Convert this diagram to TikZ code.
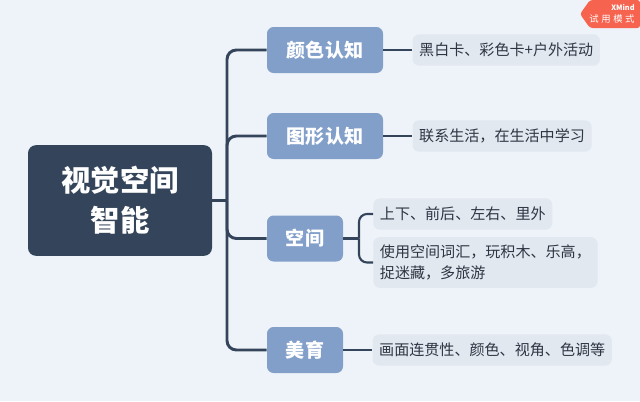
\documentclass[tikz,border=0pt]{standalone}
\usepackage{fontspec}
\setmainfont{Noto Sans CJK SC}
\usepackage{xcolor}
\usepackage{tikz}
\usetikzlibrary{positioning}
\definecolor{bgcol}{HTML}{EEF3F9}
\definecolor{rootcol}{HTML}{34445A}
\definecolor{branchcol}{HTML}{819FC9}
\definecolor{leafcol}{HTML}{E2E8F0}
\definecolor{linecol}{HTML}{34445A}
\definecolor{leaftext}{HTML}{2E3542}
\definecolor{badgecol}{HTML}{F6634F}
\tikzstyle{root-box}=[rectangle, rounded corners=6pt, fill=rootcol, text=white, minimum width=138pt, minimum height=83pt, align=center, font=\bfseries\fontsize{22}{30}\selectfont]
\tikzstyle{branch-box}=[rectangle, rounded corners=5pt, fill=branchcol, text=white, minimum height=34.5pt, font=\bfseries\fontsize{14.3}{17}\selectfont]
\tikzstyle{leaf-box}=[rectangle, rounded corners=5pt, fill=leafcol, text=leaftext, minimum height=23.5pt, inner xsep=5pt, align=left, font=\fontsize{11.3}{16}\selectfont]
\tikzstyle{trunk-line}=[draw=linecol, line width=2.2pt, rounded corners=7pt]
\tikzstyle{leaf-line}=[draw=linecol, line width=1.6pt, rounded corners=6pt]

\begin{document}
\begin{tikzpicture}[x=0.75pt, y=-0.75pt, node distance=21.75pt]
	\fill[bgcol] (0,0) rectangle (640,401);
	\useasboundingbox (0,0) rectangle (640,401);

	% badge
	\fill[badgecol, rounded corners=2pt] (640,0) -- (590,0) -- (580,14) -- (590,28) -- (640,28) -- cycle;
	\node[text=white, font=\bfseries\fontsize{5.5}{6}\selectfont] (xmind) at (623,7) {XMind};
	\node[text=white, font=\fontsize{7}{8}\selectfont] (trial) at (612,19) {试\;用\;模\;式};

	\node[root-box] (root) at (120,200.5) {视觉空间\\智能};

	\node[branch-box, minimum width=87pt] (colour) at (325,50) {颜色认知};
	\node[branch-box, minimum width=87pt] (shape) at (325,136) {图形认知};
	\node[branch-box, minimum width=57pt] (space) at (305,238.5) {空间};
	\node[branch-box, minimum width=57pt] (art) at (305,350) {美育};

	\node[leaf-box] (colourleaf) [right=of colour] {黑白卡、彩色卡+户外活动};
	\node[leaf-box] (shapeleaf) [right=of shape] {联系生活，在生活中学习};
	\node[leaf-box, anchor=west] (dirleaf) at (373,214) {上下、前后、左右、里外};
	\node[leaf-box, anchor=west, minimum height=38pt] (wordleaf) at (373,262.5) {使用空间词汇，玩积木、乐高，\\捉迷藏，多旅游};
	\node[leaf-box] (artleaf) [right=of art] {画面连贯性、颜色、视角、色调等};

	\coordinate (trunk) at (227,200.5);
	\coordinate (fork) at (359,238.5);

	\draw[trunk-line] (root.east) -- (trunk);
	\draw[trunk-line] (trunk) |- (colour.west);
	\draw[trunk-line] (trunk) |- (shape.west);
	\draw[trunk-line] (trunk) |- (space.west);
	\draw[trunk-line] (trunk) |- (art.west);

	\draw[leaf-line] (colour.east) -- (colourleaf.west);
	\draw[leaf-line] (shape.east) -- (shapeleaf.west);
	\draw[leaf-line] (space.east) -- (fork);
	\draw[leaf-line] (fork) |- (dirleaf.west);
	\draw[leaf-line] (fork) |- (wordleaf.west);
	\draw[leaf-line] (art.east) -- (artleaf.west);
\end{tikzpicture}
\end{document}
